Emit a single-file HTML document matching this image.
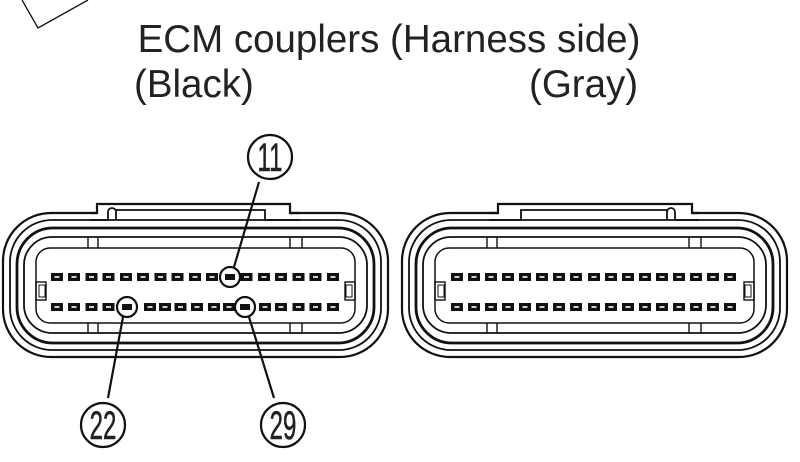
<!DOCTYPE html>
<html><head><meta charset="utf-8"><style>
html,body{margin:0;padding:0;background:#fff;width:800px;height:462px;overflow:hidden}
svg{display:block}
.t{font-family:"Liberation Sans",sans-serif;fill:#222}
.n{font-family:"Liberation Sans",sans-serif;fill:#222;font-size:40px;stroke:#222;stroke-width:0.6}
</style></head><body>
<svg width="800" height="462" viewBox="0 0 800 462" xmlns="http://www.w3.org/2000/svg">
<defs>
<g id="pin"><rect x="-6" y="-4" width="12" height="8" fill="#111"/><rect x="-2.5" y="-0.8" width="5" height="1.6" fill="#fff"/></g>
<g id="body" fill="none" stroke="#111">
  <rect x="3" y="213" width="385" height="144" rx="48" stroke-width="2.2"/>
  <rect x="10" y="220" width="371" height="130" rx="42" stroke-width="1.8"/>
  <rect x="17" y="228" width="357" height="115" rx="36" stroke-width="2.8"/>
  <rect x="24" y="237" width="343" height="96" rx="28" stroke-width="1.8"/>
  <rect x="36" y="248" width="319" height="75" rx="14" stroke-width="1.5"/>
  <line x1="88" y1="237" x2="88" y2="248" stroke-width="1.4"/><line x1="98" y1="237" x2="98" y2="248" stroke-width="1.4"/>
  <line x1="290" y1="237" x2="290" y2="248" stroke-width="1.4"/><line x1="302" y1="237" x2="302" y2="248" stroke-width="1.4"/>
  <line x1="88" y1="323" x2="88" y2="333" stroke-width="1.4"/><line x1="98" y1="323" x2="98" y2="333" stroke-width="1.4"/>
  <line x1="290" y1="323" x2="290" y2="333" stroke-width="1.4"/><line x1="302" y1="323" x2="302" y2="333" stroke-width="1.4"/>
  <rect x="36" y="282" width="10" height="18" stroke-width="1.4"/><rect x="39" y="285" width="6" height="12" stroke-width="1"/>
  <rect x="345" y="282" width="10" height="18" stroke-width="1.4"/><rect x="346" y="285" width="6" height="12" stroke-width="1"/>
</g>
</defs>
<polyline points="22,0 38,28 88,0" fill="none" stroke="#111" stroke-width="1.3"/>
<text class="t" x="389" y="52" font-size="38.5" text-anchor="middle">ECM couplers (Harness side)</text>
<text class="t" x="134" y="97" font-size="38.5">(Black)</text>
<text class="t" x="529" y="97" font-size="38.5">(Gray)</text>

<!-- left connector -->
<use href="#body"/>
<rect x="97" y="204" width="193" height="12" fill="#fff"/>
<path d="M90,213 L97,213 L97,204 L290,204 L290,213 L300,213" fill="none" stroke="#111" stroke-width="2.2"/>
<path d="M90,220 L108,220 L108,212 A3,3 0 0 1 116,212 L116,220 L116,210 L265,210 L265,220 L280,220 L300,220" fill="none" stroke="#111" stroke-width="1.8"/>
<g>
<use href="#pin" x="57" y="277"/><use href="#pin" x="74" y="277"/><use href="#pin" x="91.5" y="277"/><use href="#pin" x="108.5" y="277"/><use href="#pin" x="126" y="277"/><use href="#pin" x="143" y="277"/><use href="#pin" x="160.5" y="277"/><use href="#pin" x="177.5" y="277"/><use href="#pin" x="195" y="277"/><use href="#pin" x="212" y="277"/><use href="#pin" x="229.5" y="277"/><use href="#pin" x="246.5" y="277"/><use href="#pin" x="264" y="277"/><use href="#pin" x="281" y="277"/><use href="#pin" x="298.5" y="277"/><use href="#pin" x="315.5" y="277"/><use href="#pin" x="333" y="277"/>
<use href="#pin" x="57" y="307"/><use href="#pin" x="74" y="307"/><use href="#pin" x="91.5" y="307"/><use href="#pin" x="108.5" y="307"/><use href="#pin" x="127" y="307"/><use href="#pin" x="150" y="307"/><use href="#pin" x="165" y="307"/><use href="#pin" x="180.5" y="307"/><use href="#pin" x="197" y="307"/><use href="#pin" x="214" y="307"/><use href="#pin" x="229" y="307"/><use href="#pin" x="245" y="307"/><use href="#pin" x="265" y="307"/><use href="#pin" x="281" y="307"/><use href="#pin" x="298.5" y="307"/><use href="#pin" x="315.5" y="307"/><use href="#pin" x="333" y="307"/>
</g>
<g fill="#fff" stroke="#111" stroke-width="2.2">
<circle cx="230" cy="277" r="10"/><circle cx="127" cy="307" r="10"/><circle cx="245" cy="307" r="10"/>
</g>
<rect x="225" y="274" width="10" height="6" fill="#111"/><rect x="122" y="304" width="10" height="6" fill="#111"/><rect x="240" y="304" width="10" height="6" fill="#111"/>
<g stroke="#111" stroke-width="2.2">
<line x1="259" y1="182" x2="234" y2="267"/>
<line x1="123" y1="317" x2="108" y2="398"/>
<line x1="249" y1="317" x2="274" y2="398"/>
</g>
<g fill="#fff" stroke="#111" stroke-width="2.2">
<circle cx="270" cy="157" r="22"/><circle cx="103" cy="425" r="22"/><circle cx="283" cy="425" r="22"/>
</g>
<text class="n" transform="translate(270,171) scale(0.6,1)" text-anchor="middle">11</text>
<text class="n" transform="translate(103,439) scale(0.6,1)" text-anchor="middle">22</text>
<text class="n" transform="translate(283,439) scale(0.6,1)" text-anchor="middle">29</text>

<!-- right connector -->
<g transform="translate(399,0)">
<use href="#body"/>
<rect x="99" y="204" width="194" height="12" fill="#fff"/>
<path d="M90,213 L99,213 L99,204 L293,204 L293,213 L300,213" fill="none" stroke="#111" stroke-width="2.2"/>
<path d="M90,220 L122,220 L122,210 L268,210 L268,220 L268,212 A3,3 0 0 1 276,212 L276,220 L300,220" fill="none" stroke="#111" stroke-width="1.8"/>
</g>
<g transform="translate(400,0)">
<use href="#pin" x="57" y="277"/><use href="#pin" x="74" y="277"/><use href="#pin" x="91" y="277"/><use href="#pin" x="108" y="277"/><use href="#pin" x="125" y="277"/><use href="#pin" x="142" y="277"/><use href="#pin" x="159" y="277"/><use href="#pin" x="176" y="277"/><use href="#pin" x="194" y="277"/><use href="#pin" x="211" y="277"/><use href="#pin" x="228" y="277"/><use href="#pin" x="245" y="277"/><use href="#pin" x="262" y="277"/><use href="#pin" x="279" y="277"/><use href="#pin" x="296" y="277"/><use href="#pin" x="313" y="277"/><use href="#pin" x="330" y="277"/>
<use href="#pin" x="57" y="307"/><use href="#pin" x="74" y="307"/><use href="#pin" x="91" y="307"/><use href="#pin" x="108" y="307"/><use href="#pin" x="125" y="307"/><use href="#pin" x="142" y="307"/><use href="#pin" x="159" y="307"/><use href="#pin" x="176" y="307"/><use href="#pin" x="194" y="307"/><use href="#pin" x="211" y="307"/><use href="#pin" x="228" y="307"/><use href="#pin" x="245" y="307"/><use href="#pin" x="262" y="307"/><use href="#pin" x="279" y="307"/><use href="#pin" x="296" y="307"/><use href="#pin" x="313" y="307"/><use href="#pin" x="330" y="307"/>
</g>
</svg>
</body></html>
